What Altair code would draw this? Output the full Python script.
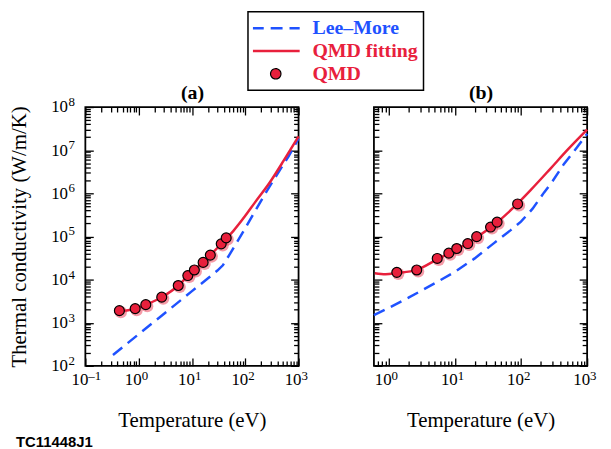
import altair as alt
import pandas as pd

SERIES = ["Lee–More", "QMD fitting", "QMD"]
BLUE = "#1f52ff"
RED = "#e8203c"
SERIF = "Liberation Serif"

# ---------------- panel (a) ----------------
a_lm_T = [0.33, 1, 3, 10, 20, 30, 38, 50, 70, 100, 150, 250, 400, 650, 1000]
a_lm_k = [179, 541, 1620, 5400, 10700, 16200, 21400, 37000, 74000, 1.55e5,
          3.74e5, 1.1e6, 2.8e6, 7.2e6, 1.87e7]
a_fit_T = [0.35, 0.45, 0.6, 0.86, 1.36, 2.7, 5.5, 8.4, 11, 16, 22, 35, 44, 60,
           100, 150, 290, 511, 700, 1000]
a_fit_k = [2000, 1900, 1930, 2100, 2600, 3900, 7200, 12200, 16500, 25000, 37000,
           66000, 90000, 1.35e5, 3.0e5, 6.0e5, 1.8e6, 5.4e6, 1.02e7, 2.1e7]
a_qmd_T = [0.435, 0.86, 1.36, 2.71, 5.53, 8.36, 11.1, 16.2, 22.1, 35.4, 43.9]
a_qmd_k = [1905, 2120, 2620, 3920, 7280, 12400, 16700, 25000, 37000, 67300, 92500]

# ---------------- panel (b) ----------------
b_lm_T = [0.6, 1, 2, 5, 10, 20, 40, 70, 100, 150, 224, 300, 447, 700, 1000]
b_lm_k = [1500, 2200, 3800, 8200, 15000, 31000, 72000, 1.4e5, 2.2e5, 4.4e5,
          1.05e6, 1.9e6, 4.8e6, 1.15e7, 2.4e7]
b_fit_T = [0.62, 0.9, 1.33, 2.66, 5.43, 8.13, 10.7, 15.7, 21.4, 34.7, 43.6, 87,
           141, 282, 500, 1000]
b_fit_k = [14000, 13300, 14200, 16800, 29500, 40500, 50000, 70000, 96000, 1.62e5,
           2.12e5, 5.6e5, 1.2e6, 3.8e6, 1.0e7, 3.0e7]
b_qmd_T = [1.33, 2.66, 5.43, 8.13, 10.7, 15.7, 21.4, 34.7, 43.6, 89]
b_qmd_k = [14700, 16700, 30900, 41100, 52500, 68400, 99000, 1.65e5, 2.15e5, 5.67e5]

# ---------------- ticks and tick labels ----------------
X_A_DOMAIN = [0.1, 1000]
X_B_DOMAIN = [0.6, 1000]
Y_DOMAIN = [1e2, 1e8]
X_A_MAJOR = [0.1, 1, 10, 100, 1000]
X_A_EXP = ["–1", "0", "1", "2", "3"]
X_B_MAJOR = [1, 10, 100, 1000]
X_B_EXP = ["0", "1", "2", "3"]
Y_MAJOR = [1e2, 1e3, 1e4, 1e5, 1e6, 1e7, 1e8]
Y_EXP = ["2", "3", "4", "5", "6", "7", "8"]
BASE_LABEL = "10"
X_A_MINOR = [m * 10.0 ** e for e in range(-1, 3) for m in range(2, 10)]
X_B_MINOR = [0.7, 0.8, 0.9] + [m * 10.0 ** e for e in range(0, 3) for m in range(2, 10)]
Y_MINOR = [m * 10.0 ** e for e in range(2, 8) for m in range(2, 10)]

W, H = 215, 261


def axis(orient, values, size, labels=False, title=None, lpad=0, tpad=0,
         loff=0, title_bold=False, title_size=21):
    kw = dict(orient=orient, values=values, tickSize=size, offset=-size,
              domain=False, grid=False, ticks=True, tickColor="black",
              tickWidth=1.3, title=title)
    if labels:
        kw.update(labels=True, labelExpr=f"'{BASE_LABEL}'", labelFont=SERIF,
                  labelFontSize=17, labelColor="black", labelPadding=lpad,
                  labelFlush=False, labelOverlap=False, labelOffset=loff)
    else:
        kw.update(labels=False)
    if title is not None:
        kw.update(titleFont=SERIF, titleFontSize=title_size,
                  titleFontWeight="bold" if title_bold else "normal",
                  titleColor="black", titlePadding=tpad)
    return alt.Axis(**kw)


def cond(v_qmd, v_lm, v_fit):
    return alt.ExprRef(
        f"(datum.value == 'QMD' ? {v_qmd} : (datum.value == 'Lee–More' ? {v_lm} : {v_fit}))")


LINE_PATH = "'M-4.6,0L4.6,0'"
LEGEND = alt.Legend(
    orient="none", legendX=164, legendY=-96, title=None, padding=5,
    strokeColor="black", fillColor="white", cornerRadius=0, rowPadding=0,
    clipHeight=23, symbolSize=110, symbolOffset=13, labelOffset=27,
    labelFont=SERIF, labelFontSize=20, labelFontWeight="bold", direction="vertical",
    symbolType=cond("'circle'", LINE_PATH, LINE_PATH),
    symbolDash=cond("[1,0]", "[12,7]", "[1,0]"),
    symbolStrokeColor=cond("'#000000'", f"'{BLUE}'", f"'{RED}'"),
    symbolStrokeWidth=cond("1.2", "2.5", "2.5"),
    symbolOpacity=1,
    labelColor=cond(f"'{RED}'", f"'{BLUE}'", f"'{RED}'"),
)


def panel(lm_T, lm_k, fit_T, fit_k, q_T, q_k, xdom, xmaj, xexp, xminor, name, first):
    lm = pd.DataFrame({"T": lm_T, "k": lm_k})
    fit = pd.DataFrame({"T": fit_T, "k": fit_k})
    q = pd.DataFrame({"T": q_T, "k": q_k, "series": SERIES[2]})
    xe = pd.DataFrame({"T": xmaj, "e": xexp})
    ye = pd.DataFrame({"k": Y_MAJOR, "e": Y_EXP})
    xs = alt.Scale(type="log", domain=xdom, nice=False)
    ys = alt.Scale(type="log", domain=Y_DOMAIN, nice=False)
    cscale = alt.Scale(domain=SERIES, range=[BLUE, RED, RED])
    col = alt.Color("series:N", scale=cscale, legend=LEGEND if first else None)

    x_bmaj = axis("bottom", xmaj, 8, labels=True, title="Temperature (eV)",
                  lpad=6, tpad=22, loff=-6)
    x_bmin = axis("bottom", xminor, 5)
    x_tmaj = axis("top", xmaj, 8, title=name, tpad=4, title_bold=True, title_size=20)
    x_tmin = axis("top", xminor, 5)
    if first:
        y_lmaj = axis("left", Y_MAJOR, 8, labels=True,
                      title="Thermal conductivity (W/m/K)", lpad=18, tpad=21)
    else:
        y_lmaj = axis("left", Y_MAJOR, 8)
    y_lmin = axis("left", Y_MINOR, 5)
    y_rmaj = axis("right", Y_MAJOR, 8)
    y_rmin = axis("right", Y_MINOR, 5)

    l1 = alt.Chart(lm).mark_line(strokeDash=[12, 7], strokeWidth=2.5, color=BLUE).encode(
        x=alt.X("T:Q", scale=xs, axis=x_bmaj),
        y=alt.Y("k:Q", scale=ys, axis=y_lmaj))
    l2 = alt.Chart(fit).mark_line(strokeWidth=2.5, interpolate="monotone", color=RED).encode(
        x=alt.X("T:Q", scale=xs, axis=x_bmin),
        y=alt.Y("k:Q", scale=ys, axis=y_lmin))
    l3 = alt.Chart(q).mark_circle(size=150, color=RED, opacity=0.45, xOffset=1.5, yOffset=1.5).encode(
        x=alt.X("T:Q", scale=xs, axis=x_tmaj),
        y=alt.Y("k:Q", scale=ys, axis=y_rmaj))
    l4 = alt.Chart(q).mark_point(filled=True, shape="circle", size=100, stroke="black",
                                 strokeWidth=1.2, opacity=1).encode(
        x=alt.X("T:Q", scale=xs, axis=x_tmin),
        y=alt.Y("k:Q", scale=ys, axis=y_rmin),
        color=col)
    l5 = alt.Chart(xe).mark_text(align="left", baseline="middle", font=SERIF, fontSize=13,
                                 dx=3, color="black").encode(
        x=alt.X("T:Q", scale=xs, axis=None),
        y=alt.value(H + 10),
        text="e:N")
    items = [l1, l2, l3, l4, l5]
    if first:
        l6 = alt.Chart(ye).mark_text(align="left", baseline="middle", font=SERIF, fontSize=13,
                                     dy=-5, color="black").encode(
            x=alt.value(-17),
            y=alt.Y("k:Q", scale=ys, axis=None),
            text="e:N")
        items.append(l6)
    return alt.layer(*items).resolve_axis(x="independent", y="independent").properties(
        width=W, height=H)


pa = panel(a_lm_T, a_lm_k, a_fit_T, a_fit_k, a_qmd_T, a_qmd_k,
           X_A_DOMAIN, X_A_MAJOR, X_A_EXP, X_A_MINOR, "(a)", True)
pb = panel(b_lm_T, b_lm_k, b_fit_T, b_fit_k, b_qmd_T, b_qmd_k,
           X_B_DOMAIN, X_B_MAJOR, X_B_EXP, X_B_MINOR, "(b)", False)

chart = alt.hconcat(pa, pb, spacing=76, bounds="flush").resolve_scale(
    color="independent"
).properties(
    padding={"left": 0, "top": 0, "right": 5, "bottom": 0},
    title=alt.TitleParams("TC11448J1", orient="bottom", anchor="start",
                          font="Liberation Sans", fontSize=15, fontWeight="bold",
                          color="black", offset=4, dx=8),
).configure_view(stroke="black", strokeWidth=1.8).configure_legend(strokeWidth=1.5)

chart.save("out.html", embed_options={"renderer": "svg", "actions": False})
